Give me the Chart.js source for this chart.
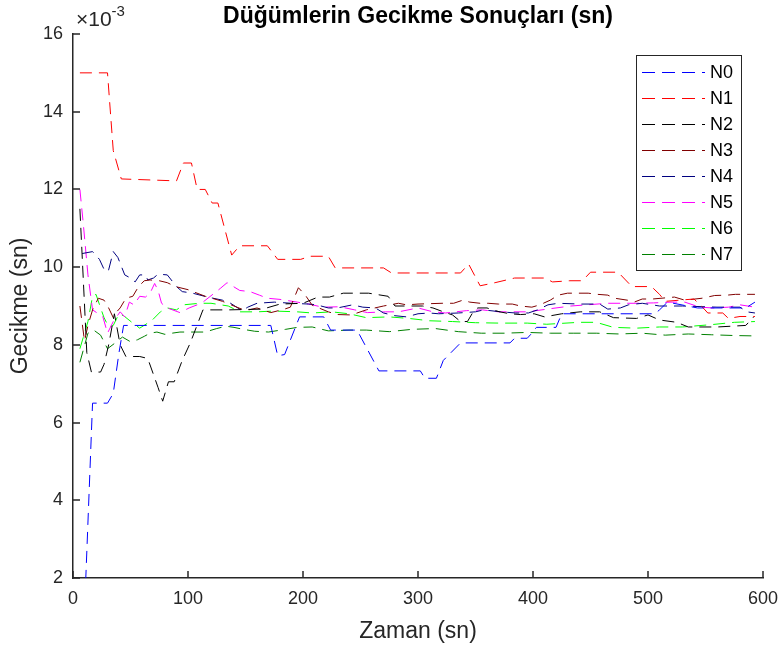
<!DOCTYPE html>
<html>
<head>
<meta charset="utf-8">
<script src="https://cdn.jsdelivr.net/npm/chart.js@4"></script>
<style>
  html, body { margin: 0; padding: 0; background: #fff; }
  canvas { display: block; }
</style>
</head>
<body>
<canvas id="grafica" width="782" height="648"></canvas>
<script>
// Zaman (sn) ve gecikme (x 10^-3 sn) degerleri, her dugum icin
const n0Zaman = [11, 17, 30, 35, 40, 44, 172, 178, 184, 197, 218, 224, 247, 266, 302, 306, 316, 322, 337, 380, 384, 395, 399, 403, 420, 425, 506, 510, 517, 543, 570, 585, 593];
const n0Gecikme = [1.9, 6.5, 6.5, 6.75, 7.8, 8.5, 8.5, 7.72, 7.75, 8.72, 8.72, 8.38, 8.38, 7.33, 7.33, 7.14, 7.14, 7.6, 8.05, 8.05, 8.17, 8.17, 8.3, 8.45, 8.45, 8.8, 8.8, 8.9, 9.1, 8.95, 8.95, 8.95, 9.1];

const n1Zaman = [6, 30, 35, 42, 90, 96, 103, 108, 115, 121, 126, 138, 145, 169, 178, 198, 206, 222, 228, 270, 277, 337, 344, 354, 367, 384, 410, 417, 432, 443, 450, 474, 486, 503, 510, 515, 540, 548, 552, 565, 570, 580, 593];
const n1Gecikme = [15, 15, 13.0, 12.27, 12.22, 12.68, 12.68, 12.0, 12.0, 11.65, 11.65, 10.31, 10.55, 10.55, 10.2, 10.2, 10.28, 10.28, 9.98, 9.98, 9.85, 9.85, 10.08, 9.52, 9.6, 9.72, 9.72, 9.62, 9.65, 9.65, 9.87, 9.87, 9.5, 9.5, 9.3, 9.12, 9.18, 8.95, 8.82, 8.82, 8.68, 8.73, 8.73];

const n2Zaman = [6, 12, 16, 24, 27, 31, 36, 41, 46, 58, 65, 74, 78, 83, 88, 95, 102, 113, 135, 165, 180, 200, 213, 223, 235, 257, 274, 280, 304, 313, 322, 330, 337, 343, 348, 352, 360, 365, 371, 380, 389, 401, 410, 425, 441, 458, 470, 490, 500, 510, 525, 535, 560, 585, 592];
const n2Gecikme = [11.5, 7.8, 7.3, 7.3, 7.5, 8.0, 8.8, 8.0, 7.7, 7.7, 7.65, 6.9, 6.55, 7.05, 7.05, 7.6, 8.05, 8.9, 8.9, 8.92, 9.05, 9.07, 9.23, 9.23, 9.33, 9.33, 9.25, 9.0, 9.0, 8.95, 8.85, 8.77, 8.6, 8.6, 8.85, 8.95, 8.95, 8.9, 8.85, 8.8, 8.78, 8.8, 8.72, 8.8, 8.85, 8.85, 8.7, 8.68, 8.77, 8.64, 8.58, 8.46, 8.46, 8.5, 8.72];

const n3Zaman = [6, 10, 13, 17, 22, 27, 31, 35, 38, 41, 46, 52, 57, 62, 67, 75, 82, 89, 100, 115, 130, 140, 150, 160, 172, 184, 189, 196, 202, 208, 222, 230, 242, 255, 270, 283, 290, 300, 321, 331, 339, 345, 354, 361, 370, 382, 389, 399, 406, 415, 422, 430, 438, 448, 456, 465, 471, 482, 488, 495, 504, 523, 532, 547, 558, 569, 576, 593];
const n3Gecikme = [9.0, 8.1, 8.5, 8.9, 9.2, 9.15, 8.95, 8.7, 8.85, 8.95, 9.2, 9.25, 9.5, 9.65, 9.67, 9.65, 9.6, 9.5, 9.42, 9.25, 9.12, 9.0, 8.88, 8.95, 8.83, 8.92, 8.97, 9.47, 9.28, 9.02, 8.85, 8.78, 8.77, 8.9, 9.0, 9.07, 9.03, 9.05, 9.07, 9.07, 9.15, 9.1, 9.07, 9.07, 9.05, 9.05, 9.0, 8.97, 9.03, 9.15, 9.28, 9.33, 9.33, 9.33, 9.3, 9.28, 9.2, 9.15, 9.1, 9.18, 9.18, 9.23, 9.15, 9.2, 9.27, 9.28, 9.3, 9.3];

const n4Zaman = [8, 17, 23, 28, 31, 35, 39, 45, 50, 54, 58, 63, 65, 70, 74, 82, 90, 95, 104, 117, 130, 137, 147, 152, 160, 175, 190, 205, 212, 222, 230, 243, 252, 263, 270, 280, 290, 300, 310, 318, 335, 350, 357, 372, 385, 396, 404, 413, 422, 441, 458, 465, 476, 483, 495, 510, 530, 560, 580, 586, 593];
const n4Gecikme = [10.35, 10.4, 10.2, 9.88, 9.93, 10.4, 10.25, 9.8, 9.72, 9.62, 9.8, 9.8, 9.67, 9.72, 9.82, 9.8, 9.5, 9.37, 9.33, 9.23, 9.15, 9.07, 8.88, 8.97, 9.07, 9.1, 9.07, 9.05, 9.03, 8.95, 8.95, 9.03, 8.97, 8.95, 8.82, 8.75, 8.72, 8.8, 8.82, 8.8, 8.82, 8.85, 8.9, 8.85, 8.82, 8.82, 8.9, 9.03, 9.07, 9.05, 9.05, 8.92, 8.95, 9.03, 9.07, 9.0, 9.0, 8.97, 8.97, 8.85, 8.82];

const n5Zaman = [6, 9, 13, 17, 22, 26, 30, 35, 41, 45, 49, 53, 58, 63, 67, 71, 74, 77, 82, 93, 101, 108, 113, 128, 134, 145, 154, 162, 169, 180, 195, 205, 217, 232, 245, 256, 272, 283, 300, 313, 324, 342, 356, 370, 395, 420, 433, 465, 490, 505, 520, 532, 545, 556, 570, 580, 593];
const n5Gecikme = [12.0, 11.1, 9.8, 8.9, 8.8, 8.72, 8.3, 8.6, 8.85, 8.72, 9.1, 9.03, 9.25, 9.23, 9.33, 9.58, 9.4, 9.07, 8.95, 8.83, 8.95, 9.03, 9.1, 9.45, 9.6, 9.4, 9.37, 9.28, 9.2, 9.17, 9.1, 9.05, 8.97, 8.98, 8.9, 8.83, 8.85, 8.85, 8.95, 8.85, 8.82, 8.88, 8.9, 8.85, 8.85, 8.95, 9.0, 9.07, 9.07, 9.08, 9.1, 9.1, 8.97, 8.95, 8.97, 9.03, 8.97];

const n6Zaman = [6, 13, 17, 20, 24, 27, 31, 35, 40, 44, 52, 58, 65, 69, 76, 82, 90, 96, 110, 120, 135, 145, 160, 175, 195, 208, 225, 240, 255, 275, 292, 310, 330, 350, 370, 395, 412, 440, 455, 470, 490, 510, 530, 555, 575, 593];
const n6Gecikme = [7.9, 8.6, 9.25, 9.3, 8.95, 8.7, 8.46, 8.5, 8.8, 8.75, 8.56, 8.43, 8.56, 8.64, 8.85, 8.95, 8.9, 9.03, 9.07, 9.07, 9.0, 8.85, 8.85, 8.87, 8.85, 8.82, 8.85, 8.8, 8.7, 8.72, 8.68, 8.62, 8.6, 8.57, 8.56, 8.56, 8.53, 8.58, 8.58, 8.45, 8.43, 8.46, 8.46, 8.52, 8.58, 8.6];

const n7Zaman = [6, 9, 13, 18, 24, 30, 38, 43, 50, 56, 62, 67, 73, 80, 86, 93, 102, 115, 125, 133, 140, 148, 158, 170, 185, 195, 208, 222, 240, 255, 275, 295, 315, 335, 355, 375, 395, 415, 435, 455, 475, 495, 515, 535, 555, 575, 593];
const n7Gecikme = [7.55, 7.87, 8.3, 8.38, 8.25, 7.9, 8.08, 8.2, 8.08, 8.13, 8.22, 8.3, 8.33, 8.27, 8.3, 8.33, 8.33, 8.33, 8.42, 8.48, 8.45, 8.4, 8.35, 8.33, 8.4, 8.45, 8.46, 8.36, 8.38, 8.38, 8.34, 8.4, 8.42, 8.34, 8.3, 8.3, 8.32, 8.3, 8.3, 8.3, 8.28, 8.3, 8.25, 8.28, 8.26, 8.24, 8.23];

const dugumler = ['N0', 'N1', 'N2', 'N3', 'N4', 'N5', 'N6', 'N7'];
const xTicks = [0, 100, 200, 300, 400, 500, 600];
const yTicks = [2, 4, 6, 8, 10, 12, 14, 16];

const renkler = ['#0000ff', '#ff0000', '#000000', '#800000', '#000080', '#ff00ff', '#00ff00', '#008000'];
const zamanlar = [n0Zaman, n1Zaman, n2Zaman, n3Zaman, n4Zaman, n5Zaman, n6Zaman, n7Zaman];
const gecikmeler = [n0Gecikme, n1Gecikme, n2Gecikme, n3Gecikme, n4Gecikme, n5Gecikme, n6Gecikme, n7Gecikme];

const FONT = "'Liberation Sans', Arial, sans-serif";
const YAZI = '#262626';
Chart.defaults.font.family = FONT;

const datasets = dugumler.map(function (ad, i) {
    return {
        label: ad,
        data: zamanlar[i].map(function (t, k) { return { x: t, y: gecikmeler[i][k] }; }),
        borderColor: renkler[i],
        borderWidth: 1,
        borderDash: [12, 7],
        pointRadius: 0,
        fill: false,
        tension: 0
    };
});

// MATLAB gorunumu: ice donuk tikler, baslik, us etiketi, lejant
const matlabGorunum = {
    id: 'matlabGorunum',
    afterDraw(chart) {
        const ctx = chart.ctx;
        const a = chart.chartArea;
        const sx = chart.scales.x;
        const sy = chart.scales.y;
        ctx.save();

        ctx.strokeStyle = YAZI;
        ctx.lineWidth = 1.5;
        ctx.setLineDash([]);
        xTicks.forEach(function (v) {
            const px = Math.round(sx.getPixelForValue(v));
            ctx.beginPath(); ctx.moveTo(px, a.bottom); ctx.lineTo(px, a.bottom - 7); ctx.stroke();
        });
        yTicks.forEach(function (v) {
            const py = Math.round(sy.getPixelForValue(v));
            ctx.beginPath(); ctx.moveTo(a.left, py); ctx.lineTo(a.left + 7, py); ctx.stroke();
        });

        // baslik
        ctx.fillStyle = '#000';
        ctx.font = 'bold 23px ' + FONT;
        ctx.textAlign = 'center';
        ctx.textBaseline = 'alphabetic';
        ctx.fillText('Düğümlerin Gecikme Sonuçları (sn)', (a.left + a.right) / 2, 23);

        // eksen basliklari
        ctx.fillStyle = YAZI;
        ctx.font = '23px ' + FONT;
        ctx.textBaseline = 'middle';
        ctx.fillText('Zaman (sn)', (a.left + a.right) / 2, 632);
        ctx.save();
        ctx.translate(21, (a.top + a.bottom) / 2);
        ctx.rotate(-Math.PI / 2);
        ctx.fillText('Gecikme (sn)', 0, 0);
        ctx.restore();

        // us etiketi
        ctx.textAlign = 'left';
        ctx.textBaseline = 'alphabetic';
        ctx.font = '21px ' + FONT;
        ctx.fillText('\u00d710', 76, 26);
        const w = ctx.measureText('\u00d710').width;
        ctx.font = '15px ' + FONT;
        ctx.fillText('-3', 76 + w, 16);

        // lejant
        const bx = 636.5, by = 55.5, bw = 105, bh = 215;
        ctx.fillStyle = '#fff';
        ctx.fillRect(bx, by, bw, bh);
        ctx.strokeStyle = '#262626';
        ctx.lineWidth = 1;
        ctx.strokeRect(bx, by, bw, bh);
        ctx.font = '18px ' + FONT;
        ctx.textBaseline = 'middle';
        dugumler.forEach(function (ad, i) {
            const ly = 72 + i * 26;
            ctx.strokeStyle = renkler[i];
            ctx.lineWidth = 1;
            ctx.setLineDash([13, 7]);
            ctx.beginPath(); ctx.moveTo(642, ly + 0.5); ctx.lineTo(705, ly + 0.5); ctx.stroke();
            ctx.setLineDash([]);
            ctx.fillStyle = '#000';
            ctx.fillText(ad, 710, ly + 1);
        });

        ctx.restore();
    }
};

new Chart(document.getElementById('grafica'), {
    type: 'line',
    data: { datasets: datasets },
    options: {
        responsive: false,
        animation: false,
        layout: { padding: { top: 34, right: 19, left: 0, bottom: 0 } },
        plugins: {
            legend: { display: false },
            title: { display: false },
            tooltip: { enabled: false }
        },
        scales: {
            x: {
                type: 'linear',
                min: 0,
                max: 600,
                afterBuildTicks: function (s) { s.ticks = xTicks.map(function (v) { return { value: v }; }); },
                ticks: { color: YAZI, font: { size: 18 }, padding: 10, maxRotation: 0, autoSkip: false },
                grid: { display: false, drawTicks: false },
                border: { display: true, color: YAZI, width: 1.5 },
                afterFit: function (s) { s.height = 70; s.paddingLeft = 0; s.paddingRight = 0; }
            },
            y: {
                type: 'linear',
                min: 2,
                max: 16,
                afterBuildTicks: function (s) { s.ticks = yTicks.map(function (v) { return { value: v }; }); },
                ticks: { color: YAZI, font: { size: 18 }, padding: 10, autoSkip: false },
                grid: { display: false, drawTicks: false },
                border: { display: true, color: YAZI, width: 1.5 },
                afterFit: function (s) { s.width = 73; s.paddingTop = 0; s.paddingBottom = 0; }
            }
        }
    },
    plugins: [matlabGorunum]
});
</script>
</body>
</html>
